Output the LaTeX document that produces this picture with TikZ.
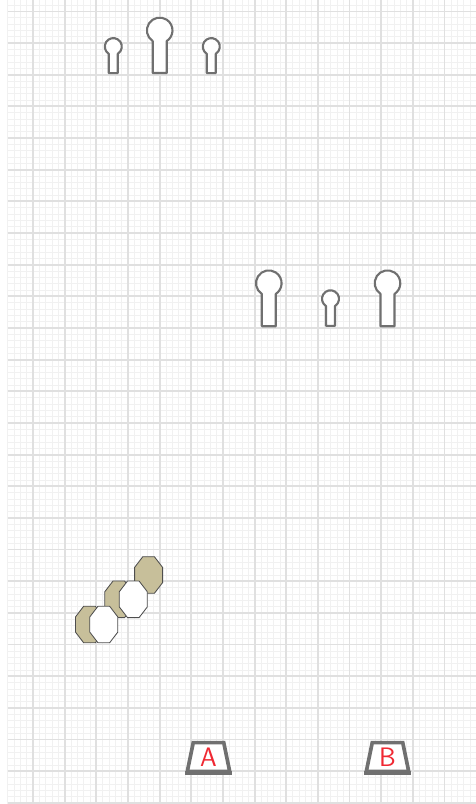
\documentclass[tikz,border=0pt]{standalone}
\usetikzlibrary{shapes.geometric}
\definecolor{gridfine}{RGB}{241,241,241}
\definecolor{gridbold}{RGB}{224,224,224}
\definecolor{slate}{RGB}{112,112,112}
\definecolor{khaki}{RGB}{199,191,154}
\definecolor{scarlet}{RGB}{240,40,50}
\tikzset{
  fine/.style={draw=gridfine,line width=0.6pt},
  bold/.style={draw=gridbold,line width=1.2pt},
  keyline/.style={draw=slate,line width=1.5pt,fill=white,line join=round},
  bin/.style={trapezium,trapezium angle=80,trapezium stretches=true,draw=slate,
    line width=2.6pt,fill=white,minimum width=1.06cm,minimum height=0.72cm,
    inner sep=0pt,text=scarlet,font=\sffamily\fontsize{19}{19}\selectfont},
  % pictograms
  pics/keyhole/.style n args={3}{code={
    \draw[keyline] (-#2,#3) -- (-#2,{sqrt(#1*#1-#2*#2)})
      arc[start angle={180-acos(#2/#1)},end angle={360+acos(#2/#1)},radius=#1]
      -- (#2,#3) -- cycle;
  }},
  pics/octo/.style={code={
    \filldraw[fill=#1,draw=slate!70!black,line width=0.6pt]
      (-5.8,-18.3) -- (5.8,-18.3) -- (14,-7.6) -- (14,7.6) -- (5.8,18.3)
      -- (-5.8,18.3) -- (-14,7.6) -- (-14,-7.6) -- cycle;
  }},
  pics/octo/.default=khaki,
}
\begin{document}
\begin{tikzpicture}[x=0.025cm,y=-0.025cm]
  \useasboundingbox (0,0) rectangle (475,804);
  \fill[white] (0,0) rectangle (475,804);
  % grid
  \foreach \i in {0,...,73} \draw[fine] ({7.67+6.333*\i},0) -- ++(0,804);
  \foreach \i in {0,...,126} \draw[fine] (7.67,{5+6.333*\i}) -- ++(468,0);
  \foreach \i in {0,...,13} \draw[bold] ({33+31.665*\i},0) -- ++(0,804);
  \foreach \i in {0,...,25} \draw[bold] (7.67,{11.34+31.665*\i}) -- ++(468,0);
  % keyholes
  \pic at (113.3,46.6) {keyhole={8.5}{4.5}{26.5}};
  \pic at (159.7,30.4) {keyhole={12.8}{7}{42.6}};
  \pic at (211.3,46.6) {keyhole={8.5}{4.5}{26.5}};
  \pic at (268.8,283.2) {keyhole={12.8}{7}{43}};
  \pic at (330.5,298.8) {keyhole={8.5}{4.5}{27}};
  \pic at (387.5,283.2) {keyhole={12.8}{7}{43}};
  % octagons
  \pic at (148.6,575) {octo};
  \pic at (118.8,599.3) {octo};
  \pic at (133.3,599.3) {octo=white};
  \pic at (89.5,624.5) {octo};
  \pic at (103.8,624.5) {octo=white};
  % bins
  \node[bin] (binA) at (208.5,757) {A};
  \node[bin] (binB) at (387.5,757) {B};
  \draw[slate,line width=3pt] (binA.bottom left corner) -- (binA.bottom right corner);
  \draw[slate,line width=3pt] (binB.bottom left corner) -- (binB.bottom right corner);
\end{tikzpicture}
\end{document}
